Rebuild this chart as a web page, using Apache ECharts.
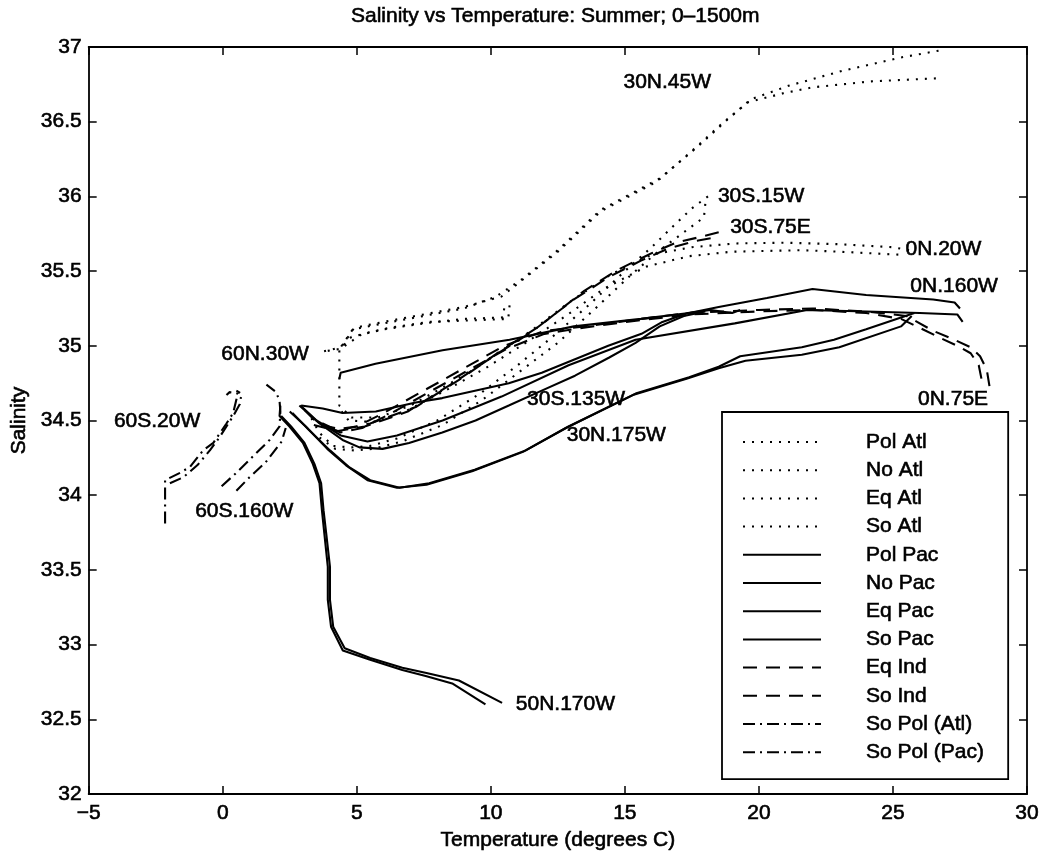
<!DOCTYPE html>
<html>
<head>
<meta charset="utf-8">
<title>Salinity vs Temperature: Summer; 0-1500m</title>
<script src="https://cdn.jsdelivr.net/npm/echarts/dist/echarts.min.js"></script>
<style>
  html, body { margin: 0; padding: 0; background: #fff; }
  #chart { width: 1045px; height: 857px; }
</style>
</head>
<body>
<div id="chart"></div>
<script>
// [temperature, salinity] pairs, two profiles per station
var polAtlA = [[10.7,35.27],[10.65,35.18],[9.2,35.17],[7.7,35.16],[6.2,35.12],[5.2,35.08],[4.4,34.98],[3.7,34.96]];
var polAtlB = [[10.5,35.25],[10.45,35.19],[9,35.18],[7.5,35.15],[6,35.11],[4.8,35.06],[4.35,34.97]];
var noAtlA = [[26.7,36.975],[25.3,36.93],[23.1,36.84],[21.1,36.74],[19.7,36.65],[18.8,36.51],[17.7,36.33],[16.3,36.12],[14.1,35.91],[12.5,35.64],[11.2,35.45],[10.2,35.33],[9,35.25],[7.5,35.2],[6,35.15],[4.85,35.11],[4.4,34.99],[3.7,34.96]];
var noAtlB = [[26.6,36.79],[24.2,36.77],[22,36.73],[20.9,36.69],[19.6,36.63],[18.7,36.5],[17.6,36.32],[16.2,36.1],[14.1,35.9],[12.5,35.63],[11.1,35.43],[10.4,35.33],[9,35.26],[7.5,35.21],[6,35.16],[4.9,35.12],[4.35,34.97]];
var eqAtlA = [[25.6,35.64],[25,35.66],[23,35.68],[21,35.69],[19.1,35.685],[17.5,35.66],[16,35.61],[14.5,35.48],[13,35.3],[11.5,35.1],[10,34.92],[8.5,34.75],[7,34.6],[5.8,34.52],[4.8,34.52],[4.35,34.6],[4.35,34.98]];
var eqAtlB = [[25.2,35.61],[23,35.63],[21.6,35.64],[19,35.63],[17.4,35.6],[15.8,35.53],[14.2,35.38],[12.8,35.2],[11.3,35.02],[9.8,34.85],[8.3,34.7],[6.8,34.56],[5.6,34.49],[4.7,34.5],[4.35,34.58]];
var soAtlA = [[18.1,36.0],[17.5,35.92],[16.8,35.8],[16,35.66],[15,35.5],[13.7,35.28],[12.3,35.06],[11,34.87],[9.6,34.68],[8,34.5],[6.5,34.38],[5.5,34.33],[4.8,34.32],[4.1,34.33],[3.6,34.42],[3.2,34.55]];
var soAtlB = [[18,35.95],[17.95,35.86],[17.2,35.76],[16.3,35.64],[15.2,35.47],[13.9,35.25],[12.5,35.02],[11.1,34.83],[9.7,34.64],[8.2,34.47],[6.7,34.36],[5.6,34.31],[4.9,34.3],[4.2,34.31],[3.5,34.4]];

var polPacA = [[9.8,32.6],[8.56,32.74],[7.57,32.79],[6.7,32.83],[5.47,32.9],[4.48,32.96],[4.04,33.12],[3.92,33.3],[3.92,33.52],[3.79,33.745],[3.7,33.9],[3.61,34.08],[3.36,34.21],[2.99,34.35],[2.49,34.46],[2.12,34.53],[2.15,34.6]];
var polPacB = [[10.42,32.61],[8.81,32.76],[7.6,32.81],[6.7,32.845],[5.5,32.91],[4.55,32.975],[4.12,33.12],[4.0,33.3],[4.0,33.52],[3.86,33.745],[3.76,33.9],[3.67,34.08],[3.42,34.21],[3.05,34.35],[2.55,34.46],[2.18,34.53]];
var noPacA = [[25.8,35.22],[24,35.11],[22.8,35.04],[21.6,34.99],[19.3,34.93],[18.5,34.86],[17.4,34.79],[15.4,34.68],[12.9,34.46],[11.3,34.3],[9.4,34.17],[7.7,34.08],[6.6,34.05],[5.5,34.1],[4.7,34.19],[4,34.3],[3.2,34.44],[2.6,34.55]];
var noPacB = [[25.7,35.2],[25.3,35.13],[23,34.99],[21.6,34.94],[19.5,34.9],[18.5,34.85],[17.3,34.78],[15.3,34.67],[12.8,34.45],[11.2,34.29],[9.3,34.16],[7.6,34.07],[6.5,34.05],[5.4,34.1],[4.6,34.2],[3.9,34.31],[3.1,34.46],[2.5,34.56]];
var eqPacA = [[27.5,35.25],[27.3,35.29],[26.5,35.31],[24,35.34],[22,35.38],[20.3,35.32],[18.5,35.26],[17.4,35.22],[15.6,35.18],[13.1,35.13],[10.7,35.04],[8.2,34.97],[5.7,34.88],[4.4,34.82],[4.35,34.78]];
var eqPacB = [[27.6,35.16],[27.4,35.21],[26,35.22],[24,35.23],[21.8,35.24],[19.1,35.15],[15.4,35.04],[12.9,34.87],[10.4,34.66],[8.2,34.5],[6.5,34.4],[5.4,34.36],[4.4,34.4],[3.5,34.5],[2.9,34.6]];
var soPacA = [[2.93,34.6],[3.73,34.58],[4.47,34.55],[5.71,34.56],[7.2,34.62],[8.19,34.65],[10.67,34.75],[11.9,34.82],[13.14,34.91],[14.38,35.0],[15.62,35.08],[16.4,35.16],[17.35,35.22],[18.2,35.24],[19.0,35.22],[19.3,35.24]];
var soPacB = [[2.86,34.6],[3.61,34.48],[4.47,34.37],[5.1,34.32],[5.96,34.31],[6.95,34.35],[8.19,34.42],[9.43,34.5],[10.67,34.6],[11.9,34.7],[13.14,34.8],[14.4,34.92],[15.4,35.02],[16.3,35.13],[17.2,35.2],[18,35.23]];

var eqIndA = [[28.6,34.73],[28.5,34.84],[28.25,34.93],[27.9,34.99],[27.3,35.04],[26.5,35.1],[25.9,35.16],[25.5,35.2],[24,35.23],[22,35.25],[20,35.24],[17.4,35.22],[15.6,35.18],[13.5,35.13],[12,35.1],[10.5,35.0],[9,34.85],[7.5,34.7],[6,34.55],[5,34.46],[4.2,34.44],[3.5,34.5]];
var eqIndB = [[28.3,34.78],[28.2,34.87],[27.9,34.95],[27.4,35.0],[26.8,35.05],[26,35.12],[25.3,35.18],[24,35.22],[22,35.24],[20,35.23],[17.5,35.21],[15.5,35.17],[13.4,35.12],[12,35.08],[10.6,34.98],[9.2,34.84],[7.7,34.69],[6.2,34.54],[5.2,34.45],[4.4,34.42],[3.7,34.47]];
var soIndA = [[18.5,35.76],[17.85,35.73],[16.9,35.69],[16,35.62],[14.75,35.51],[13.5,35.37],[11.8,35.13],[10.4,34.97],[8.8,34.77],[7.2,34.59],[5.5,34.48],[4.5,34.44],[3.6,34.47],[3.05,34.57]];
var soIndB = [[18.2,35.72],[17.6,35.7],[16.6,35.65],[15.6,35.57],[14.4,35.46],[13.1,35.31],[11.5,35.09],[10.1,34.93],[8.5,34.74],[6.9,34.56],[5.3,34.46],[4.3,34.43],[3.4,34.47]];

var soPolAtlA = [[-2.15,33.81],[-2.15,34.1],[-1.59,34.15],[-1.22,34.19],[-0.73,34.3],[-0.35,34.35],[0.14,34.48],[0.39,34.55],[0.51,34.64],[0.57,34.68],[0.26,34.69],[0.14,34.67]];
var soPolAtlB = [[-1.97,34.08],[-1.47,34.12],[-0.95,34.2],[-0.48,34.3],[-0.11,34.39],[0.39,34.53],[0.64,34.61],[0.7,34.68],[0.51,34.7]];
var soPolPacA = [[-0.04,34.06],[0.51,34.15],[1.13,34.26],[1.75,34.37],[2.12,34.46],[2.15,34.56],[2.12,34.63],[1.99,34.69],[1.63,34.74]];
var soPolPacB = [[0.51,34.03],[1.0,34.12],[1.6,34.22],[2.2,34.36],[2.35,34.45]];

var legendNames = ['Pol Atl', 'No Atl', 'Eq Atl', 'So Atl', 'Pol Pac', 'No Pac', 'Eq Pac', 'So Pac', 'Eq Ind', 'So Ind', 'So Pol (Atl)', 'So Pol (Pac)'];

var stationNames = ['30N.45W', '30S.15W', '30S.75E', '0N.20W', '0N.160W', '0N.75E', '30S.135W', '30N.175W', '60N.30W', '60S.20W', '60S.160W', '50N.170W'];
var stationT = [16.6, 20.1, 20.45, 26.9, 27.3, 27.26, 13.2, 14.7, 1.6, -2.43, 0.82, 12.8];
var stationS = [36.76, 36.0, 35.79, 35.64, 35.395, 34.64, 34.64, 34.4, 34.94, 34.49, 33.89, 32.6];

var xTicks = { min: -5, max: 30, step: 5 };
var yTicks = { min: 32, max: 37, step: 0.5 };

var FONT = '"Liberation Sans", Arial, Helvetica, sans-serif';
// scanned print is heavy, thicken glyphs a little with a thin outline
var INK = { color: '#000', fontFamily: FONT, fontSize: 21, textBorderColor: '#000', textBorderWidth: 0.6 };
var DOT = [2, 7];
var DASH = [14, 9];
var DASHDOT = [12, 5, 2, 5];

var curves = [
  ['Pol Atl', polAtlA, DOT], ['Pol Atl', polAtlB, DOT],
  ['No Atl', noAtlA, DOT], ['No Atl', noAtlB, DOT],
  ['Eq Atl', eqAtlA, DOT], ['Eq Atl', eqAtlB, DOT],
  ['So Atl', soAtlA, DOT], ['So Atl', soAtlB, DOT],
  ['Pol Pac', polPacA, 'solid'], ['Pol Pac', polPacB, 'solid'],
  ['No Pac', noPacA, 'solid'], ['No Pac', noPacB, 'solid'],
  ['Eq Pac', eqPacA, 'solid'], ['Eq Pac', eqPacB, 'solid'],
  ['So Pac', soPacA, 'solid'], ['So Pac', soPacB, 'solid'],
  ['Eq Ind', eqIndA, DASH], ['Eq Ind', eqIndB, DASH],
  ['So Ind', soIndA, DASH], ['So Ind', soIndB, DASH],
  ['So Pol (Atl)', soPolAtlA, DASHDOT], ['So Pol (Atl)', soPolAtlB, DASHDOT],
  ['So Pol (Pac)', soPolPacA, DASHDOT], ['So Pol (Pac)', soPolPacB, DASHDOT]
];

var series = curves.map(function (c) {
  return {
    name: c[0],
    type: 'line',
    data: c[1],
    symbol: 'none',
    smooth: false,
    itemStyle: { color: '#000' },
    lineStyle: { color: '#000', width: 2.1, type: c[2] }
  };
});

// station names, placed in data coordinates next to their profiles
series.push({
  type: 'scatter',
  symbolSize: 1,
  itemStyle: { color: 'rgba(0,0,0,0)', opacity: 1 },
  silent: true,
  data: stationNames.map(function (n, i) { return [stationT[i], stationS[i], n]; }),
  label: Object.assign({
    show: true,
    opacity: 1,
    position: [0, 0],
    align: 'center',
    verticalAlign: 'middle',
    formatter: function (p) { return p.data[2]; }
  }, INK)
});

function axisBase(t) {
  return {
    min: t.min, max: t.max, interval: t.step,
    splitLine: { show: false },
    axisLine: { show: true, onZero: false, lineStyle: { color: '#000', width: 1.8 } },
    axisTick: { show: true, inside: true, length: 8, lineStyle: { color: '#000', width: 1.5 } }
  };
}

var xMain = Object.assign(axisBase(xTicks), {
  type: 'value', position: 'bottom',
  name: 'Temperature (degrees C)', nameLocation: 'middle', nameGap: 36,
  nameTextStyle: INK,
  axisLabel: Object.assign({
    margin: 9,
    formatter: function (v) { return v < 0 ? '\u2212' + Math.abs(v) : String(v); }
  }, INK)
});
var xTop = Object.assign(axisBase(xTicks), { type: 'value', position: 'top', axisLabel: { show: false } });
var yMain = Object.assign(axisBase(yTicks), {
  type: 'value', position: 'left',
  name: 'Salinity', nameLocation: 'middle', nameGap: 52,
  nameTextStyle: INK,
  axisLabel: Object.assign({ margin: 7 }, INK)
});
var yRight = Object.assign(axisBase(yTicks), { type: 'value', position: 'right', axisLabel: { show: false } });

var chart = echarts.init(document.getElementById('chart'), null, { renderer: 'canvas' });
chart.setOption({
  animation: false,
  backgroundColor: '#fff',
  title: {
    text: 'Salinity vs Temperature: Summer; 0\u20131500m',
    left: 351, top: 6, padding: 0,
    textStyle: Object.assign({ fontWeight: 'normal' }, INK)
  },
  grid: { left: 85, right: 18, top: 47, bottom: 63 },
  xAxis: [xMain, xTop],
  yAxis: [yMain, yRight],
  legend: {
    data: legendNames,
    orient: 'vertical',
    left: 722, top: 412,
    padding: [18, 24, 15, 20],
    itemWidth: 78, itemHeight: 14, itemGap: 4.2,
    itemStyle: { opacity: 0 },
    backgroundColor: '#fff',
    borderColor: '#000', borderWidth: 1.8, borderRadius: 0,
    selectedMode: false,
    textStyle: Object.assign({ lineHeight: 24, padding: [0, 0, 0, 40] }, INK)
  },
  series: series
});
</script>
</body>
</html>
